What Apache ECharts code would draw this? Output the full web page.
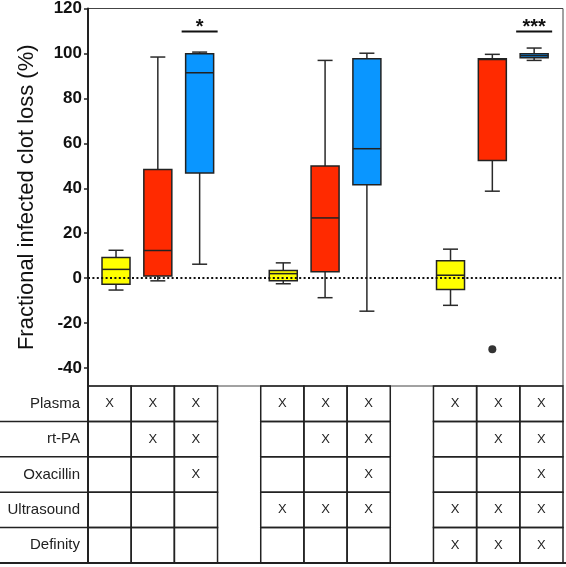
<!DOCTYPE html>
<html><head><meta charset="utf-8">
<script src="https://cdn.jsdelivr.net/npm/echarts@6/dist/echarts.min.js"></script>
<style>html,body{margin:0;padding:0;background:#fff}#c{width:566px;height:567px}</style>
</head><body><div id="c"></div>
<script>
// ---- data ----
const slots = ['S1','S2','S3','gap1','S4','S5','S6','gap2','S7','S8','S9'];
const boxSlots    = [0, 1, 2, 4, 5, 6, 8, 9, 10];
const whiskerLow  = [-5.3, -1.2,   6.2, -2.5, -8.7, -14.7, -12.1, 38.7,  96.9];
const q1          = [-2.7,  1.0,  46.8, -1.2,  2.8,  41.6,  -5.0, 52.4,  98.1];
const median      = [ 3.9, 12.3,  91.4,  2.0, 26.8,  57.6,   1.3, 97.3,  99.0];
const q3          = [ 9.2, 48.4,  99.9,  3.4, 49.9,  97.6,   7.7, 97.6,  99.9];
const whiskerHigh = [12.4, 98.4, 100.6,  6.8, 96.9, 100.1,  12.9, 99.6, 102.4];
const outlierSlots  = [9];
const outlierValues = [-31.6];
const sigSlots  = [2, 10];
const sigValues = [109.8, 109.8];
const sigLabels = ['*', '***'];
const yTicks = [-40, -20, 0, 20, 40, 60, 80, 100, 120];
const treatments = ['Plasma', 'rt-PA', 'Oxacillin', 'Ultrasound', 'Definity'];
const plasma     = [1, 1, 1, 1, 1, 1, 1, 1, 1];
const rtPA       = [0, 1, 1, 0, 1, 1, 0, 1, 1];
const oxacillin  = [0, 0, 1, 0, 0, 1, 0, 0, 1];
const ultrasound = [0, 0, 0, 1, 1, 1, 1, 1, 1];
const definity   = [0, 0, 0, 0, 0, 0, 1, 1, 1];
// ---- styles ----
const boxColors = ['#FFFF00','#FF2A00','#0A96FF','#FFFF00','#FF2A00','#0A96FF','#FFFF00','#FF2A00','#0A96FF'];
const FONT = '"Liberation Sans", Arial, Helvetica, sans-serif';
const INK = '#222';

const boxData = boxSlots.map((s, i) => [s, whiskerLow[i], q1[i], median[i], q3[i], whiskerHigh[i]]);
const outlierData = outlierSlots.map((s, i) => [s, outlierValues[i]]);
const sigData = sigSlots.map((s, i) => [s, sigValues[i]]);
const rows = [plasma, rtPA, oxacillin, ultrasound, definity];
const tableData = [];
rows.forEach((arr, r) => arr.forEach((v, i) => tableData.push([boxSlots[i], r, v])));

const chart = echarts.init(document.getElementById('c'), null, {renderer: 'canvas'});
chart.setOption({
  animation: false,
  backgroundColor: '#fff',
  grid: [
    {left: 88, right: 3, top: 8, bottom: 181, show: true, borderColor: '#444', borderWidth: 1},
    {left: 88, right: 3, top: 386, bottom: 4}
  ],
  xAxis: [
    {gridIndex: 0, type: 'value', min: -0.67, max: 10.69, show: false},
    {gridIndex: 1, type: 'category', data: slots, show: false}
  ],
  yAxis: [
    {gridIndex: 0, type: 'value', min: -48, max: 120,
     axisLine: {show: true, onZero: false, lineStyle: {color: INK, width: 2}},
     axisTick: {show: true, length: 4, customValues: yTicks, lineStyle: {color: INK, width: 1.5}},
     axisLabel: {customValues: yTicks, margin: 6, fontSize: 17, fontWeight: 'bold', color: '#111', fontFamily: FONT},
     splitLine: {show: false},
     name: 'Fractional infected clot loss (%)', nameLocation: 'middle', nameGap: 50,
     nameTextStyle: {fontSize: 22, color: '#111', fontFamily: FONT}
    },
    {gridIndex: 1, type: 'category', data: treatments, inverse: true,
     axisLine: {show: false}, axisTick: {show: false},
     axisLabel: {margin: 8, fontSize: 15, color: INK, fontFamily: FONT}
    }
  ],
  series: [
    {
      type: 'scatter', xAxisIndex: 0, yAxisIndex: 0, z: 1,
      data: outlierData, symbolSize: 8, itemStyle: {color: '#000'},
      markLine: {
        silent: true, symbol: 'none', label: {show: false},
        lineStyle: {type: [2, 2.4], color: '#111', width: 2},
        data: [{yAxis: 0}]
      }
    },
    {
      type: 'custom', xAxisIndex: 0, yAxisIndex: 0, z: 3,
      data: boxData,
      encode: {x: 0, y: [1, 2, 3, 4, 5]},
      renderItem: function (params, api) {
        const x = api.value(0);
        const lo = api.coord([x, api.value(1)]);
        const a = api.coord([x, api.value(2)]);
        const m = api.coord([x, api.value(3)]);
        const b = api.coord([x, api.value(4)]);
        const hi = api.coord([x, api.value(5)]);
        const cx = lo[0], bw = 28, cw = 15;
        const ls = {stroke: '#2a2a2a', lineWidth: 1.5};
        return {type: 'group', children: [
          {type: 'line', shape: {x1: cx, y1: hi[1], x2: cx, y2: b[1]}, style: ls},
          {type: 'line', shape: {x1: cx, y1: a[1], x2: cx, y2: lo[1]}, style: ls},
          {type: 'line', shape: {x1: cx - cw / 2, y1: hi[1], x2: cx + cw / 2, y2: hi[1]}, style: ls},
          {type: 'line', shape: {x1: cx - cw / 2, y1: lo[1], x2: cx + cw / 2, y2: lo[1]}, style: ls},
          {type: 'rect', shape: {x: cx - bw / 2, y: b[1], width: bw, height: a[1] - b[1]},
           style: {fill: boxColors[params.dataIndex], stroke: '#222', lineWidth: 1.5}},
          {type: 'line', shape: {x1: cx - bw / 2, y1: m[1], x2: cx + bw / 2, y2: m[1]}, style: {stroke: '#222', lineWidth: 1.5}}
        ]};
      }
    },
    {
      type: 'custom', xAxisIndex: 0, yAxisIndex: 0, z: 3,
      data: sigData,
      renderItem: function (params, api) {
        const p = api.coord([api.value(0), api.value(1)]);
        return {type: 'group', children: [
          {type: 'line', shape: {x1: p[0] - 18, y1: p[1], x2: p[0] + 18, y2: p[1]}, style: {stroke: '#111', lineWidth: 2}},
          {type: 'text', style: {text: sigLabels[params.dataIndex], x: p[0], y: p[1] - 4, align: 'center', verticalAlign: 'middle',
            fontSize: 20, fontWeight: 'bold', fontFamily: FONT, fill: '#111'}}
        ]};
      }
    },
    {
      type: 'custom', xAxisIndex: 1, yAxisIndex: 1, z: 2,
      data: tableData,
      renderItem: function (params, api) {
        const col = api.value(0), row = api.value(1);
        const c = api.coord([col, row]);
        const s = api.size([1, 1]);
        const x0 = c[0] - s[0] / 2, y0 = c[1] - s[1] / 2;
        const ch = [{type: 'rect', shape: {x: x0, y: y0, width: s[0], height: s[1]},
          style: {fill: 'none', stroke: INK, lineWidth: 1.5}}];
        if (api.value(2)) {
          ch.push({type: 'text', style: {text: 'X', x: c[0], y: c[1], align: 'center', verticalAlign: 'middle',
            fontSize: 13, fontFamily: FONT, fill: INK}});
        }
        if (col === 0) {
          if (row < treatments.length - 1) {
            ch.push({type: 'line', shape: {x1: 0, y1: y0 + s[1], x2: x0, y2: y0 + s[1]}, style: {stroke: INK, lineWidth: 1.5}});
          } else {
            ch.push({type: 'line', shape: {x1: 0, y1: y0 + s[1], x2: api.getWidth(), y2: y0 + s[1]}, style: {stroke: INK, lineWidth: 2}});
          }
          ch.push({type: 'line', shape: {x1: x0, y1: y0, x2: x0, y2: y0 + s[1]}, style: {stroke: INK, lineWidth: 2}});
        }
        return {type: 'group', children: ch};
      }
    }
  ]
});
</script>
</body></html>
